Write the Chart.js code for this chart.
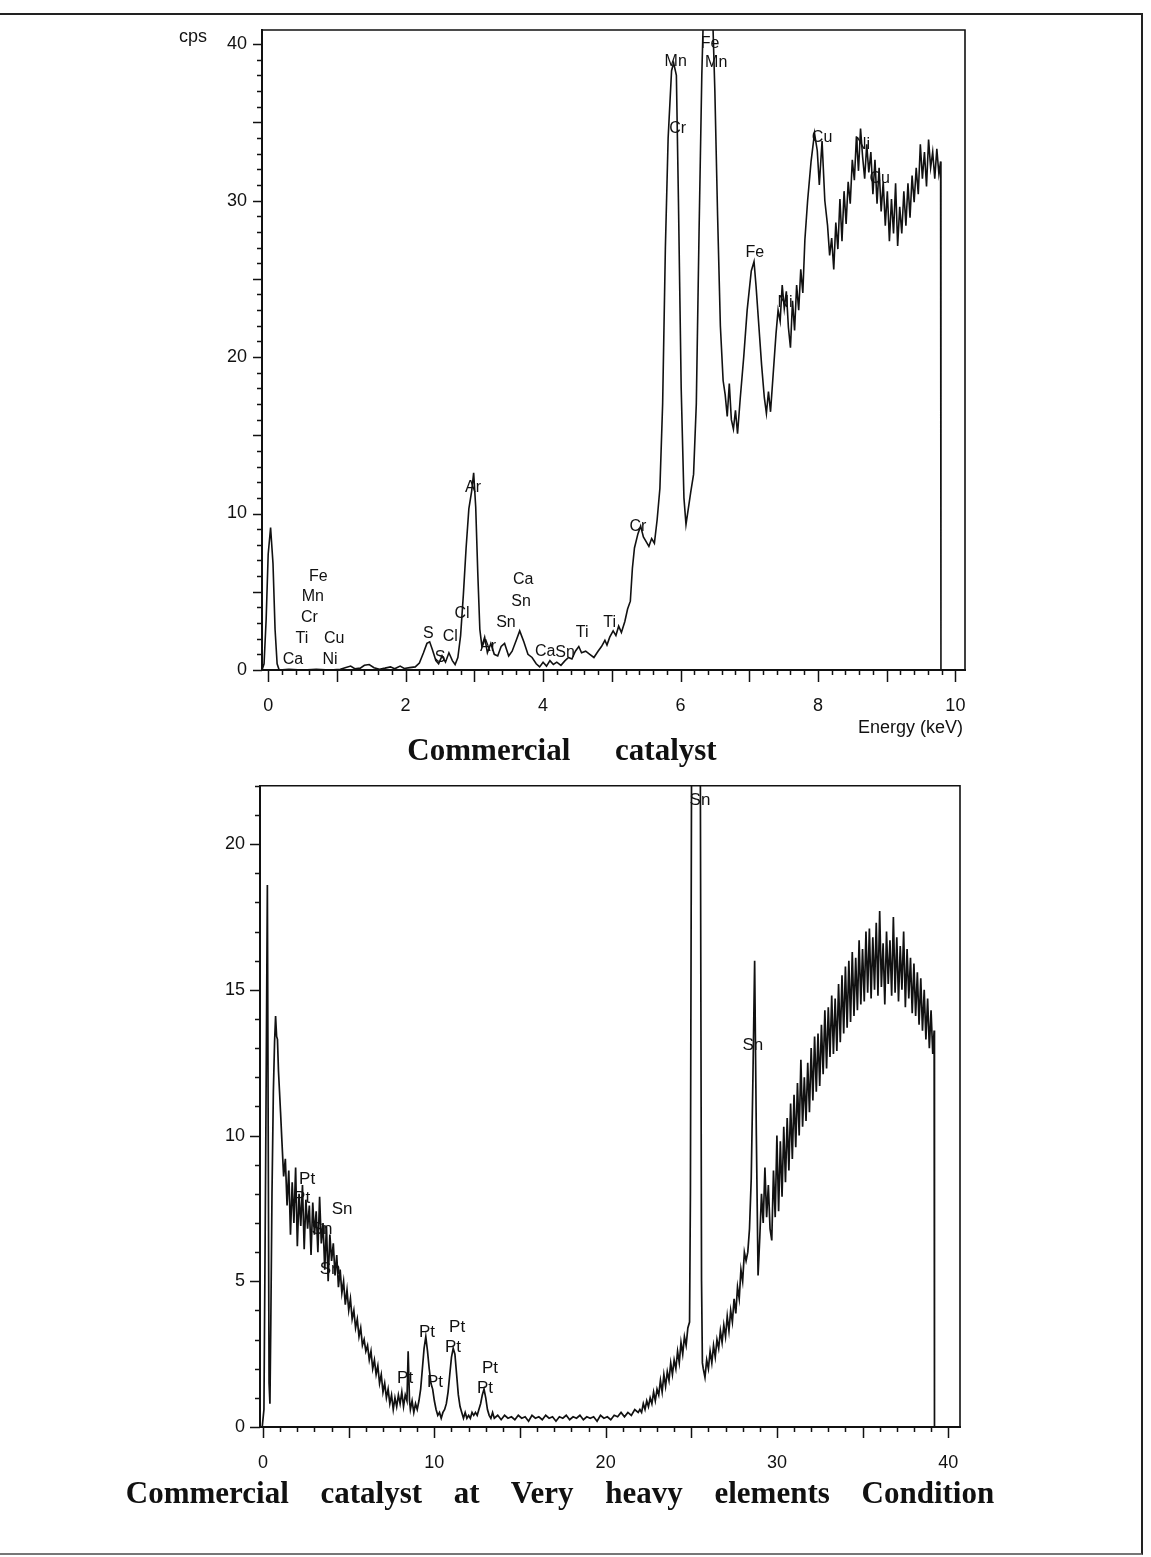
<!DOCTYPE html>
<html><head><meta charset="utf-8">
<script src="https://cdn.jsdelivr.net/npm/chart.js@4.4.1/dist/chart.umd.min.js"></script>
<style>
html,body{margin:0;padding:0;background:#fff;}
body{width:1151px;height:1557px;position:relative;overflow:hidden;font-family:"Liberation Sans",Arial,sans-serif;color:#111;}
#frame{position:absolute;left:-4px;top:13px;width:1145px;height:1538px;border:2px solid #222;border-left:none;border-bottom-color:#777;}
.cv{position:absolute;left:0;}
.lbl{position:absolute;white-space:nowrap;font-size:18px;}
.title{position:absolute;left:0;text-align:center;font-family:"Liberation Serif","Times New Roman",serif;font-weight:bold;font-size:31px;line-height:36px;white-space:nowrap;color:#111;}
</style></head><body>
<div id="frame"></div>
<canvas id="c1" class="cv" width="1151" height="760" style="top:0"></canvas>
<canvas id="c2" class="cv" width="1151" height="740" style="top:760px"></canvas>
<div class="lbl" style="left:179px;top:26px">cps</div>
<div class="lbl" style="right:188px;top:717px">Energy (keV)</div>
<div class="title" style="top:732px;width:1124px;word-spacing:37px">Commercial catalyst</div>
<div class="title" style="top:1475px;width:1120px;word-spacing:24px">Commercial catalyst at Very heavy elements Condition</div>
<script>
// ---------- DATA ----------
const topXTicks = [0, 2, 4, 6, 8, 10];
const topYTicks = [0, 10, 20, 30, 40];
const bottomXTicks = [0, 10, 20, 30, 40];
const bottomYTicks = [0, 5, 10, 15, 20];

// [energy keV, counts per second]
const topSpectrum = [
[-0.09,0],[-0.06,0.4],[-0.03,3.2],[0.0,7.4],[0.035,9.1],[0.07,6.8],[0.1,2.6],[0.13,0.4],[0.16,0],[0.3,0.05],[0.5,0],[0.7,0.05],[0.9,0],[1.05,0.05],[1.12,0.15],[1.2,0.25],[1.26,0.08],[1.34,0.12],[1.4,0.3],[1.47,0.35],[1.54,0.15],[1.62,0.05],[1.7,0.12],[1.78,0.2],[1.84,0.08],[1.92,0.25],[1.98,0.1],[2.06,0.15],[2.14,0.2],[2.2,0.45],[2.26,1.1],[2.31,1.7],[2.35,1.8],[2.39,1.3],[2.44,0.6],[2.48,0.4],[2.53,0.9],[2.58,0.5],[2.63,1.1],[2.68,0.6],[2.72,0.35],[2.76,0.8],[2.8,2.2],[2.84,4.8],[2.88,7.8],[2.92,10.3],[2.96,11.4],[2.99,12.6],[3.02,10.4],[3.05,6.2],[3.08,2.6],[3.11,1.5],[3.15,2.1],[3.19,1.1],[3.24,1.7],[3.29,1.0],[3.34,0.9],[3.39,1.5],[3.44,1.7],[3.5,0.9],[3.55,1.2],[3.61,1.9],[3.66,2.5],[3.72,1.8],[3.78,1.0],[3.84,0.8],[3.9,0.4],[3.95,0.2],[4.0,0.5],[4.05,0.25],[4.1,0.6],[4.15,0.35],[4.2,0.5],[4.26,0.3],[4.32,0.6],[4.37,0.8],[4.42,0.7],[4.47,1.2],[4.52,1.5],[4.56,1.1],[4.62,1.2],[4.68,1.0],[4.74,0.8],[4.8,1.2],[4.85,1.5],[4.9,1.9],[4.93,1.6],[4.97,2.1],[5.02,2.5],[5.06,2.2],[5.1,2.8],[5.14,2.4],[5.19,3.1],[5.23,3.9],[5.27,4.4],[5.3,6.5],[5.33,7.8],[5.38,8.7],[5.42,9.2],[5.46,8.5],[5.5,8.2],[5.54,7.9],[5.58,8.4],[5.62,8.1],[5.66,9.6],[5.7,11.6],[5.74,17],[5.78,27],[5.82,34],[5.87,38.3],[5.9,38.8],[5.94,38.0],[5.97,30],[6.01,18],[6.05,11],[6.08,9.3],[6.11,10.2],[6.15,11.4],[6.19,12.5],[6.23,17],[6.27,28],[6.31,38],[6.34,43],[6.46,43],[6.5,37],[6.54,29],[6.58,22],[6.62,18.5],[6.65,17.6],[6.68,16.2],[6.71,18.3],[6.74,16.0],[6.77,15.4],[6.8,16.6],[6.83,15.1],[6.87,17.4],[6.92,20],[6.97,23],[7.03,25.5],[7.07,26.1],[7.1,24.5],[7.14,22],[7.18,19.5],[7.22,17.4],[7.25,16.4],[7.28,17.8],[7.31,16.5],[7.35,19],[7.39,21.5],[7.42,23],[7.45,22.3],[7.48,24.6],[7.51,23.1],[7.54,24.2],[7.57,21.9],[7.6,20.6],[7.63,23.6],[7.66,21.7],[7.69,24.6],[7.72,23],[7.75,25.6],[7.78,24.1],[7.81,27.5],[7.85,30],[7.9,32.5],[7.95,34.3],[7.99,33.2],[8.02,31],[8.06,33.8],[8.1,30],[8.14,28.4],[8.17,26.5],[8.2,27.6],[8.23,25.6],[8.26,28.6],[8.29,26.9],[8.32,30.1],[8.35,27.4],[8.38,30.6],[8.41,28.5],[8.44,31.2],[8.47,29.8],[8.5,32.6],[8.53,31.3],[8.56,34.1],[8.59,31.9],[8.62,34.6],[8.65,32.8],[8.68,31.4],[8.71,33.6],[8.74,31.8],[8.77,33.1],[8.8,30.4],[8.83,32.6],[8.86,29.8],[8.89,32.1],[8.92,29.3],[8.95,31.2],[8.98,28.4],[9.01,30.6],[9.04,27.4],[9.07,30.1],[9.1,27.9],[9.13,31.1],[9.16,27.1],[9.19,29.6],[9.22,27.9],[9.25,30.6],[9.28,28.4],[9.31,31.1],[9.34,28.9],[9.37,31.6],[9.4,29.9],[9.43,32.1],[9.46,30.4],[9.49,33.6],[9.52,31.4],[9.55,33.1],[9.58,30.9],[9.61,33.9],[9.64,32.1],[9.67,33.1],[9.7,31.4],[9.73,33.3],[9.76,31.7],[9.785,32.5],[9.79,0]
];

const bottomSpectrum = [
[-0.15,0],[-0.05,0],[0.05,0.6],[0.15,9],[0.25,18.6],[0.3,10],[0.35,1.5],[0.4,0.8],[0.45,3.5],[0.52,8],[0.6,11.5],[0.67,13.2],[0.73,14.1],[0.79,13.4],[0.84,13.3],[0.9,12.2],[0.96,11.5],[1.02,10.8],
[1.1,9.8],[1.2,8.6],[1.3,9.2],[1.4,7.6],[1.5,8.8],[1.6,6.6],[1.7,8.4],[1.8,7.0],[1.9,8.9],[2.0,6.2],[2.1,8.0],[2.2,6.9],[2.3,8.3],[2.4,6.1],[2.5,7.8],[2.6,6.8],[2.7,7.6],[2.8,5.9],[2.9,7.7],[3.0,6.6],[3.1,7.4],[3.2,6.0],[3.3,7.9],[3.4,6.3],[3.5,7.0],[3.6,5.4],[3.7,6.9],[3.8,5.0],[3.9,6.6],[4.0,5.7],[4.1,6.3],[4.2,5.2],[4.3,5.9],[4.4,4.8],[4.5,5.4],[4.6,4.6],[4.7,5.0],[4.8,4.2],[4.9,4.7],[5.0,4.0],[5.1,4.4],[5.2,3.7],[5.3,4.0],[5.4,3.4],[5.5,3.7],[5.6,3.1],[5.7,3.4],[5.8,2.8],[5.9,3.0],[6.0,2.6],[6.1,2.8],[6.2,2.3],[6.3,2.6],[6.4,2.0],[6.5,2.3],[6.6,1.8],[6.7,2.1],[6.8,1.5],[6.9,1.8],[7.0,1.2],[7.1,1.5],[7.2,1.0],[7.3,1.3],[7.4,0.8],[7.5,1.1],[7.6,0.6],[7.7,1.0],[7.8,0.7],[7.9,1.1],[8.0,0.8],[8.1,1.2],[8.2,0.7],[8.3,1.1],[8.4,0.9],[8.47,2.6],[8.55,0.9],[8.6,0.6],[8.7,0.9],[8.8,0.5],[8.9,0.8],[9.0,0.6],[9.1,0.9],[9.2,1.3],[9.3,2.0],[9.4,2.7],[9.5,3.1],[9.6,2.6],[9.7,2.0],[9.8,1.5],[9.9,1.3],[10.0,0.9],[10.1,0.6],[10.2,0.4],[10.3,0.5],[10.4,0.3],[10.5,0.5],[10.6,0.6],[10.7,0.8],[10.8,1.2],[10.9,1.8],[11.0,2.4],[11.1,2.7],[11.2,2.5],[11.3,1.8],[11.4,1.1],[11.5,0.7],[11.6,0.5],[11.7,0.3],[11.8,0.5],[11.9,0.3],[12.0,0.4],[12.1,0.3],[12.2,0.5],[12.3,0.4],[12.4,0.5],[12.5,0.4],[12.6,0.6],[12.7,0.8],[12.8,1.1],[12.9,1.3],[13.0,1.0],[13.1,0.6],[13.2,0.4],[13.3,0.3],[13.4,0.5],[13.5,0.3],
[13.7,0.4],[13.9,0.25],[14.1,0.4],[14.3,0.3],[14.5,0.35],[14.7,0.25],[14.9,0.4],[15.1,0.3],[15.3,0.35],[15.5,0.2],[15.7,0.4],[15.9,0.3],[16.1,0.35],[16.3,0.25],[16.5,0.4],[16.7,0.3],[16.9,0.35],[17.1,0.2],[17.3,0.35],[17.5,0.3],[17.7,0.4],[17.9,0.25],[18.1,0.35],[18.3,0.3],[18.5,0.4],[18.7,0.25],[18.9,0.35],[19.1,0.3],[19.3,0.35],[19.5,0.2],[19.7,0.4],[19.9,0.3],[20.1,0.35],[20.3,0.25],[20.5,0.4],[20.7,0.35],[20.9,0.5],[21.1,0.35],[21.3,0.5],[21.5,0.4],[21.7,0.6],[21.9,0.5],
[22.0,0.6],[22.1,0.5],[22.2,0.8],[22.3,0.6],[22.4,0.9],[22.5,0.7],[22.6,1.0],[22.7,0.8],[22.8,1.2],[22.9,0.9],[23.0,1.3],[23.1,1.1],[23.2,1.6],[23.3,1.2],[23.4,1.8],[23.5,1.4],[23.6,1.9],[23.7,1.6],[23.8,2.2],[23.9,1.8],[24.0,2.3],[24.1,2.0],[24.2,2.6],[24.3,2.2],[24.4,2.9],[24.5,2.5],[24.6,3.1],[24.7,2.8],[24.8,3.4],[24.9,3.6],
[24.95,8],[25.05,30],[25.5,30],[25.6,5],[25.65,2.2],
[25.7,2.0],[25.8,1.7],[25.9,2.3],[26.0,2.0],[26.1,2.6],[26.2,2.2],[26.3,2.8],[26.4,2.4],[26.5,3.0],[26.6,2.7],[26.7,3.3],[26.8,2.9],[26.9,3.5],[27.0,3.1],[27.1,3.8],[27.2,3.3],[27.3,4.0],[27.4,3.6],[27.5,4.4],[27.6,3.9],[27.7,4.8],[27.8,4.4],[27.9,5.4],[28.0,5.0],[28.1,6.0],[28.2,5.7],[28.3,6.0],[28.4,6.8],[28.5,8.5],[28.6,12],[28.7,16.0],[28.8,10],[28.9,5.2],
[29.0,6.5],[29.1,8.0],[29.2,7.0],[29.3,8.9],[29.4,7.2],[29.5,8.3],[29.6,6.8],[29.7,6.4],[29.8,8.8],[29.9,7.2],[30.0,10.0],[30.1,7.4],[30.2,9.8],[30.3,7.9],[30.4,10.3],[30.5,8.4],[30.6,10.6],[30.7,8.8],[30.8,11.1],[30.9,9.2],[31.0,11.4],[31.1,9.6],[31.2,11.8],[31.3,10.0],[31.4,12.6],[31.5,10.3],[31.6,12.0],[31.7,10.5],[31.8,12.5],[31.9,10.8],[32.0,13.0],[32.1,11.2],[32.2,13.4],[32.3,11.5],[32.4,13.5],[32.5,11.7],[32.6,13.8],[32.7,12.1],[32.8,14.3],[32.9,12.3],[33.0,14.4],[33.1,12.7],[33.2,14.8],[33.3,12.8],[33.4,14.7],[33.5,12.9],[33.6,15.2],[33.7,13.2],[33.8,15.5],[33.9,13.5],[34.0,15.8],[34.1,13.7],[34.2,16.0],[34.3,13.9],[34.4,16.3],[34.5,14.1],[34.6,16.1],[34.7,14.3],[34.8,16.7],[34.9,14.5],[35.0,16.4],[35.1,14.6],[35.2,17.0],[35.3,14.9],[35.4,17.1],[35.5,14.7],[35.6,16.8],[35.7,15.0],[35.8,17.3],[35.9,14.8],[36.0,17.7],[36.1,15.1],[36.2,16.6],[36.3,14.5],[36.4,17.0],[36.5,15.2],[36.6,16.7],[36.7,14.8],[36.8,17.5],[36.9,14.9],[37.0,16.8],[37.1,14.6],[37.2,16.5],[37.3,15.0],[37.4,17.0],[37.5,14.4],[37.6,16.4],[37.7,14.7],[37.8,16.1],[37.9,14.2],[38.0,15.9],[38.1,14.1],[38.2,15.6],[38.3,13.8],[38.4,15.4],[38.5,13.6],[38.6,15.0],[38.7,13.3],[38.8,14.7],[38.9,13.0],[39.0,14.3],[39.1,12.8],[39.18,13.6],[39.2,0]
];

// peak labels: [text, energy keV, cps]
const topPeakLabels = [
["Fe",0.73,6.0],["Mn",0.65,4.66],["Cr",0.60,3.32],["Ti",0.49,1.98],["Cu",0.96,1.98],["Ca",0.36,0.64],["Ni",0.90,0.64],
["S",2.33,2.30],["Cl",2.65,2.11],["S",2.50,0.77],["Cl",2.82,3.58],["Ar",2.98,11.63],["Ar",3.20,1.47],
["Sn",3.46,3.0],["Ca",3.71,5.75],["Sn",3.68,4.35],["Ca",4.03,1.15],["Sn",4.32,1.09],["Ti",4.57,2.36],["Ti",4.97,3.0],
["Cr",5.38,9.14],["Mn",5.93,38.85],["Cr",5.96,34.57],["Fe",6.43,40.06],["Mn",6.52,38.79],
["Fe",7.08,26.7],["Ni",7.52,23.45],["Cu",8.06,34.0],["Ni",8.65,33.6],["Cu",8.9,31.4]
];
const bottomPeakLabels = [
["Pt",2.57,8.49],["Pt",2.28,7.84],["Sn",4.61,7.47],["Sn",3.44,6.79],["Sn",3.91,5.42],
["Pt",9.57,3.24],["Pt",11.33,3.41],["Pt",11.09,2.73],["Pt",8.29,1.67],["Pt",10.04,1.53],["Pt",13.25,2.01],["Pt",12.96,1.33],
["Sn",25.51,21.49],["Sn",28.6,13.1]
];

// ---------- DRAWING ----------
const axisDecor = {
  id: 'axisDecor',
  afterDatasetsDraw(chart, args, o) {
    const {ctx, chartArea: a, scales: {x, y}} = chart;
    ctx.save();
    ctx.strokeStyle = '#111';
    ctx.lineWidth = 1.6;
    ctx.beginPath();
    ctx.moveTo(a.left, a.top); ctx.lineTo(a.right, a.top); ctx.lineTo(a.right, a.bottom);
    ctx.stroke();
    ctx.lineWidth = 1.5;
    const near = (v, m) => Math.abs(v / m - Math.round(v / m)) < 1e-6;
    let n = Math.round((o.xTo - o.xFrom) / o.xMinor);
    ctx.beginPath();
    for (let i = 0; i <= n; i++) {
      const v = o.xFrom + i * o.xMinor;
      const px = Math.round(x.getPixelForValue(v)) + 0.5;
      const len = near(v, o.xMajor) ? o.majorLen : o.minorLen;
      ctx.moveTo(px, a.bottom); ctx.lineTo(px, a.bottom + len);
    }
    n = Math.round((o.yTo - o.yFrom) / o.yMinor);
    for (let i = 0; i <= n; i++) {
      const v = o.yFrom + i * o.yMinor;
      const py = Math.round(y.getPixelForValue(v)) + 0.5;
      const len = near(v, o.yMajor) ? o.yMajorLen : o.minorLen;
      ctx.moveTo(a.left, py); ctx.lineTo(a.left - len, py);
    }
    ctx.stroke();
    ctx.fillStyle = '#111';
    ctx.font = o.labelFont;
    ctx.textAlign = 'center';
    ctx.textBaseline = 'middle';
    o.labels.forEach(([t, e, c]) => {
      ctx.fillText(t, x.getPixelForValue(e), y.getPixelForValue(c));
    });
    ctx.restore();
  }
};

function makeChart(id, spectrum, xr, yr, xt, yt, xAxisH, yAxisW, pad, lw, decor) {
  return new Chart(document.getElementById(id), {
    type: 'line',
    data: { datasets: [{
      data: spectrum.map(p => ({x: p[0], y: p[1]})),
      borderColor: '#111', borderWidth: lw, pointRadius: 0, tension: 0, fill: false
    }]},
    options: {
      responsive: false, animation: false, devicePixelRatio: 1,
      layout: { padding: pad },
      plugins: { legend: {display: false}, tooltip: {enabled: false}, title: {display: false}, axisDecor: decor },
      scales: {
        x: {
          type: 'linear', min: xr[0], max: xr[1],
          afterBuildTicks: s => { s.ticks = xt.map(v => ({value: v})); },
          afterFit: s => { s.height = xAxisH; },
          grid: {display: true, drawOnChartArea: false, drawTicks: false},
          border: {display: true, color: '#111', width: 2},
          ticks: {padding: 25, color: '#111', maxRotation: 0, autoSkip: false,
                  font: {family: 'Liberation Sans', size: 18}}
        },
        y: {
          type: 'linear', min: yr[0], max: yr[1],
          afterBuildTicks: s => { s.ticks = yt.map(v => ({value: v})); },
          afterFit: s => { s.width = yAxisW; },
          grid: {display: true, drawOnChartArea: false, drawTicks: false},
          border: {display: true, color: '#111', width: 2},
          ticks: {padding: 15, color: '#111', autoSkip: false,
                  font: {family: 'Liberation Sans', size: 18}}
        }
      }
    },
    plugins: [axisDecor]
  });
}

makeChart('c1', topSpectrum, [-0.09, 10.14], [0, 40.9], topXTicks, topYTicks, 90, 262,
  {left: 0, top: 30, right: 186, bottom: 0}, 1.6,
  {xFrom: 0, xTo: 10, xMinor: 0.2, xMajor: 1, yFrom: 0, yTo: 40, yMinor: 1, yMajor: 5,
   majorLen: 12, minorLen: 5, yMajorLen: 9, labelFont: '16px "Liberation Sans"', labels: topPeakLabels});

makeChart('c2', bottomSpectrum, [-0.18, 40.69], [0, 22.0], bottomXTicks, bottomYTicks, 73, 260,
  {left: 0, top: 22, right: 191, bottom: 0}, 1.7,
  {xFrom: 0, xTo: 40, xMinor: 1, xMajor: 5, yFrom: 0, yTo: 22, yMinor: 1, yMajor: 5,
   majorLen: 11, minorLen: 5, yMajorLen: 10, labelFont: '17px "Liberation Sans"', labels: bottomPeakLabels});
</script>
</body></html>
